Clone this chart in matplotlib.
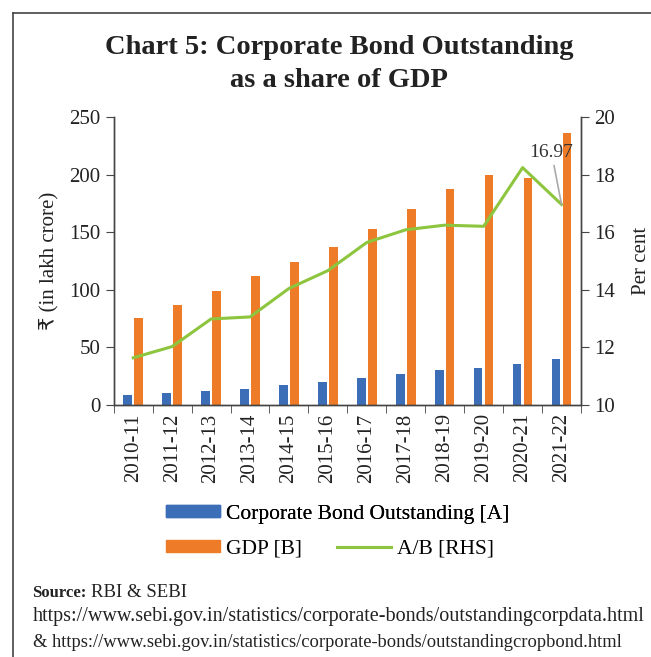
import numpy as np
import matplotlib.pyplot as plt
import matplotlib.lines as mlines
import matplotlib.patches as mpatches

# data
years = ['2010-11', '2011-12', '2012-13', '2013-14', '2014-15', '2015-16',
         '2016-17', '2017-18', '2018-19', '2019-20', '2020-21', '2021-22']
bonds = [8.4, 10.1, 12.4, 14.2, 17.1, 19.7, 23.7, 26.9, 30.4, 32.1, 35.6, 39.9]
gdp = [76, 87, 99, 112, 124, 137, 153, 170, 188, 200, 197, 236]
ratio = [11.64, 12.03, 12.99, 13.06, 14.05, 14.67, 15.65, 16.09, 16.25, 16.21, 18.25, 16.97]

blue = '#3C6DB7'
orange = '#EE7B28'
green = '#8DC53F'
serif = ['Liberation Serif', 'DejaVu Sans']
plt.rcParams['font.family'] = serif

fig = plt.figure(figsize=(6.51, 6.57), dpi=100)
ax = fig.add_axes([0.1747, 0.3836, 0.8925 - 0.1747, 0.8215 - 0.3836])
ax2 = ax.twinx()

x = np.arange(len(years))
w = 0.22
ax.bar(x - 0.14, bonds, w, color=blue, zorder=2)
ax.bar(x + 0.14, gdp, w, color=orange, zorder=2)
ax2.plot(x, ratio, color=green, lw=2.2, zorder=3)

ax.set_xlim(-0.5, len(years) - 0.5)
ax.set_ylim(0, 250)
ax.set_yticks(range(0, 251, 50))
ax2.set_ylim(10, 20)
ax2.set_yticks(range(10, 21, 2))

ax.set_xticks(x)
ax.set_xticklabels(years, rotation=90)
ax.set_xticks(np.arange(-0.5, len(years), 1), minor=True)
ax.tick_params(axis='x', which='major', length=0, pad=6, labelsize=15, colors='#222222')
ax.tick_params(axis='x', which='minor', length=6, color='#444444')
ax.tick_params(axis='y', length=6, labelsize=15, colors='#444444', labelcolor='#222222')
ax2.tick_params(axis='y', length=6, labelsize=15, colors='#444444', labelcolor='#222222')

for a in (ax, ax2):
    a.spines['top'].set_visible(False)
    for s in ('left', 'right', 'bottom'):
        a.spines[s].set_color('#444444')
        a.spines[s].set_linewidth(1.0)

ax.set_ylabel('₹ (in lakh crore)', fontsize=15, color='#222222', labelpad=8)
ax2.set_ylabel('Per cent', fontsize=15, color='#222222', labelpad=12)

# label for the last point
ax2.annotate('16.97', xy=(x[-1], ratio[-1]), xytext=(-23, 31), textcoords='offset points',
             fontsize=14, color='#333333', ha='left', va='bottom',
             arrowprops=dict(arrowstyle='-', color='#AAAAAA', lw=1.2, shrinkA=1, shrinkB=0))

fig.text(0.521, 0.928, 'Chart 5: Corporate Bond Outstanding', ha='center', va='center',
         fontsize=20.5, fontweight='bold', color='#222222')
fig.text(0.521, 0.878, 'as a share of GDP', ha='center', va='center',
         fontsize=20.5, fontweight='bold', color='#222222')

# legend: one row for the bonds, one row for GDP and ratio
h1 = mpatches.Patch(color=blue)
h2 = mpatches.Patch(color=orange)
h3 = mlines.Line2D([], [], color=green, lw=2.2)
leg_kw = dict(frameon=False, fontsize=15.5, handlelength=2.5, handleheight=0.5,
              handletextpad=0.3, borderpad=0.0, borderaxespad=0.0)
leg1 = fig.legend([h1], ['Corporate Bond Outstanding [A]'], loc='center left',
                  bbox_to_anchor=(0.255, 0.217), **leg_kw)
fig.add_artist(leg1)
fig.legend([h2, h3], ['GDP [B]', 'A/B [RHS]'], loc='center left', ncol=2,
           bbox_to_anchor=(0.255, 0.164), columnspacing=1.6, **leg_kw)

src = fig.text(0.05, 0.098, 'Source:', fontsize=12, fontweight='bold', va='center', color='#222222')
ax.annotate('RBI & SEBI', xy=(1, 0.5), xycoords=src, xytext=(3, 0), textcoords='offset points',
            fontsize=13.5, va='center', ha='left', color='#222222', annotation_clip=False)
fig.text(0.05, 0.062, 'https://www.sebi.gov.in/statistics/corporate-bonds/outstandingcorpdata.html',
         fontsize=14.5, va='center', color='#222222')
fig.text(0.05, 0.022, '& https://www.sebi.gov.in/statistics/corporate-bonds/outstandingcropbond.html',
         fontsize=13.3, va='center', color='#222222')

# frame around the chart (only top and left edges are visible in the crop)
fig.add_artist(mlines.Line2D([0.02, 0.02], [0.0, 0.98], color='#444444', lw=1.2))
fig.add_artist(mlines.Line2D([0.02, 1.0], [0.98, 0.98], color='#444444', lw=1.2))

fig.savefig('out.png', dpi=100)
